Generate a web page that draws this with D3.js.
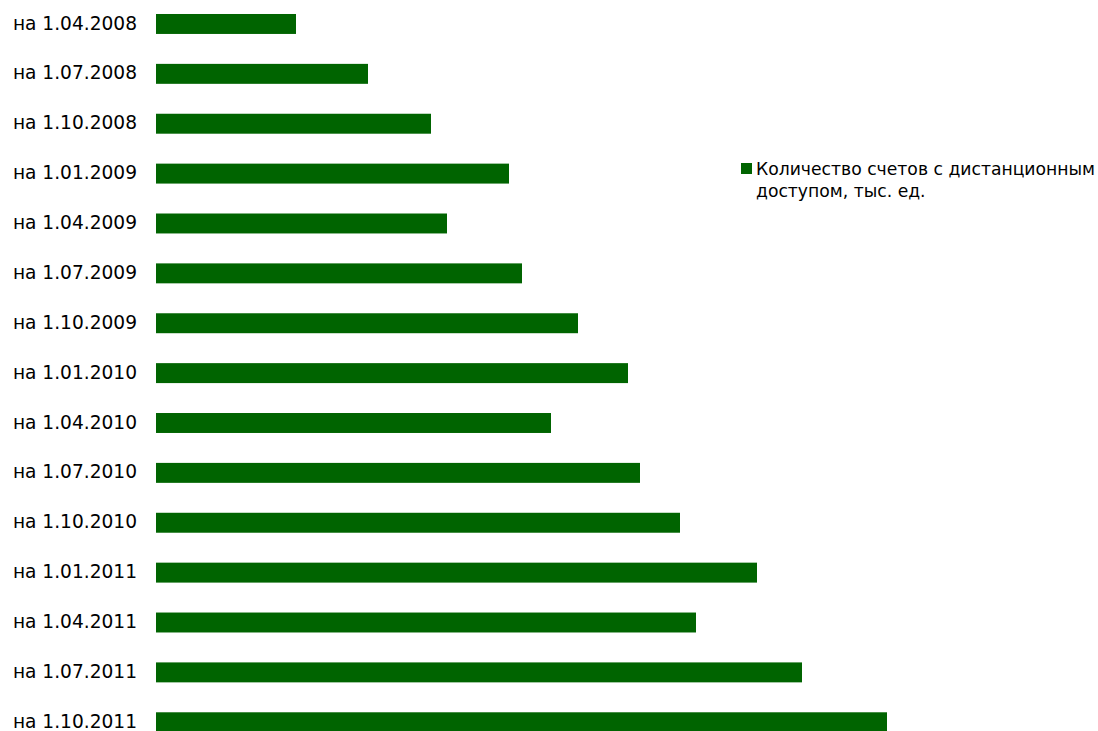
<!DOCTYPE html>
<html><head><meta charset="utf-8">
<script src="https://cdn.jsdelivr.net/npm/d3@7"></script>
<style>body{margin:0;background:#fff}svg{display:block}</style>
</head><body>
<script>
const categories = ["на 1.04.2008","на 1.07.2008","на 1.10.2008","на 1.01.2009","на 1.04.2009","на 1.07.2009","на 1.10.2009","на 1.01.2010","на 1.04.2010","на 1.07.2010","на 1.10.2010","на 1.01.2011","на 1.04.2011","на 1.07.2011","на 1.10.2011"];
const values = [140, 212, 275, 353, 291, 366, 422, 472, 395, 484, 524, 601, 540, 646, 731];
const legendLines = ["Количество счетов с дистанционным","доступом, тыс. ед."];

const W = 1098, H = 731;
const svg = d3.select("body").append("svg").attr("width", W).attr("height", H);
const x = d3.scaleLinear().domain([0, 731]).range([156, 887]);
const y = d3.scaleBand().domain(categories).range([-0.97, 747.2]).paddingInner(0.6).paddingOuter(0.3);

svg.selectAll("rect.bar").data(values).join("rect")
  .attr("class","bar")
  .attr("x", x(0)).attr("y", (d,i)=>y(categories[i]))
  .attr("width", d=>x(d)-x(0)).attr("height", y.bandwidth())
  .attr("fill","#006400");

const ax = d3.axisLeft(y).tickSize(0).tickPadding(19);
const g = svg.append("g").attr("transform",`translate(${x(0)},0)`).call(ax);
g.select(".domain").remove();
g.selectAll("text").attr("font-family","'DejaVu Sans', sans-serif").attr("font-size","18.6px")
  .attr("fill","#000").attr("dy","0.3em");

const lg = svg.append("g");
lg.append("rect").attr("x",741).attr("y",163).attr("width",11).attr("height",11).attr("fill","#006400");
lg.selectAll("text").data(legendLines).join("text")
  .attr("x",756).attr("y",(d,i)=>175+i*22)
  .attr("font-family","'DejaVu Sans', sans-serif").attr("font-size","17.2px").attr("fill","#000")
  .text(d=>d);
</script>
</body></html>
